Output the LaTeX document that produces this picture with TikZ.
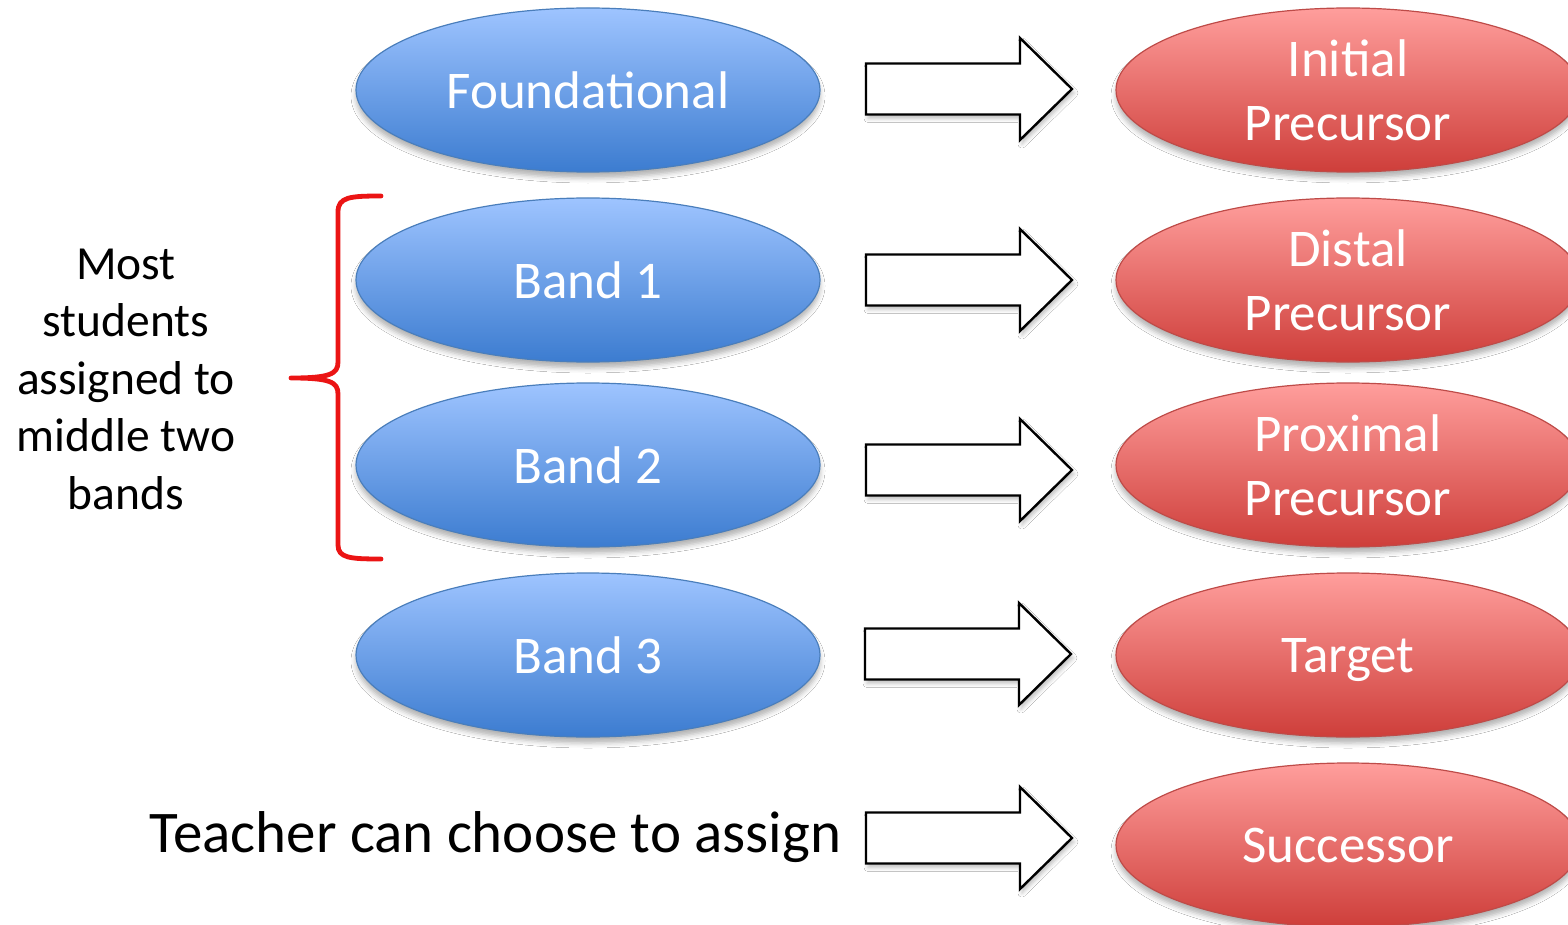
\documentclass[tikz,border=0pt]{standalone}
\usepackage{fontspec}
\setmainfont{Carlito}
\usetikzlibrary{shapes.geometric,shadows.blur}
\definecolor{bluetop}{RGB}{158,196,255}
\definecolor{bluebot}{RGB}{60,124,208}
\definecolor{blueline}{RGB}{74,126,187}
\definecolor{redtop}{RGB}{255,158,156}
\definecolor{redbot}{RGB}{206,62,58}
\definecolor{redline}{RGB}{190,75,72}
\definecolor{bracered}{RGB}{235,20,20}

\begin{document}
\begin{tikzpicture}[x=1pt,y=-1pt,
  softshadow/.style={blur shadow={shadow xshift=0pt, shadow yshift=-6pt,
      shadow blur radius=5pt, shadow opacity=30}},
  oval/.style={ellipse, minimum width=464pt, minimum height=164pt,
      inner sep=0pt, align=center, text=white, text depth=0pt,
      font=\fontsize{53}{64}\selectfont, line width=1.2pt, softshadow},
  level/.style={oval, draw=blueline, top color=bluetop, bottom color=bluebot},
  goal/.style={oval, draw=redline, top color=redtop, bottom color=redbot},
  note/.style={align=center, text=black},
  pics/blockarrow/.style={code={
    \draw[line width=2.4pt, fill=white, line join=miter,
          blur shadow={shadow xshift=2pt, shadow yshift=-4pt,
                       shadow blur radius=4pt, shadow opacity=25}]
      (0,-25.5) -- (154,-25.5) -- (154,-51) -- (206,0) -- (154,51)
      -- (154,25.5) -- (0,25.5) -- cycle;
  }}]
\clip (0,0) rectangle (1568,925);
\fill[white] (0,0) rectangle (1568,925);

% left column: levels
\node[level] (found) at (588,90)  {Foundational};
\node[level] (band1) at (588,280) {Band 1};
\node[level] (band2) at (588,465) {Band 2};
\node[level] (band3) at (588,655) {Band 3};

% right column: precursors and targets
\node[goal] (init) at (1348,90)  {Initial\\Precursor};
\node[goal] (dist) at (1348,280) {Distal\\Precursor};
\node[goal] (prox) at (1348,465) {Proximal\\Precursor};
\node[goal] (targ) at (1348,655) {Target};
\node[goal] (succ) at (1348,845) {Successor};

% block arrows between the columns
\pic (a1) at (866,89)  {blockarrow};
\pic (a2) at (866,280) {blockarrow};
\pic (a3) at (866,470) {blockarrow};
\pic (a4) at (865,654) {blockarrow};
\pic (a5) at (866,838) {blockarrow};

% brace grouping the two middle bands
\draw[bracered, line width=4.8pt, line cap=round, line join=round]
  (381,196) .. controls (350,196) and (338,197) .. (338,212)
  -- (338,362) .. controls (338,374) and (330,378) .. (291,378)
  .. controls (330,378) and (338,382) .. (338,394)
  -- (338,545) .. controls (338,558) and (350,559) .. (381,559);

\node[note, font=\fontsize{47.5}{57.5}\selectfont] (most) at (126,379)
  {Most\\students\\assigned to\\middle two\\bands};

\node[note, anchor=base, font=\fontsize{59}{70}\selectfont] (teacher)
  at (495.5,852) {Teacher can choose to assign};
\end{tikzpicture}
\end{document}
